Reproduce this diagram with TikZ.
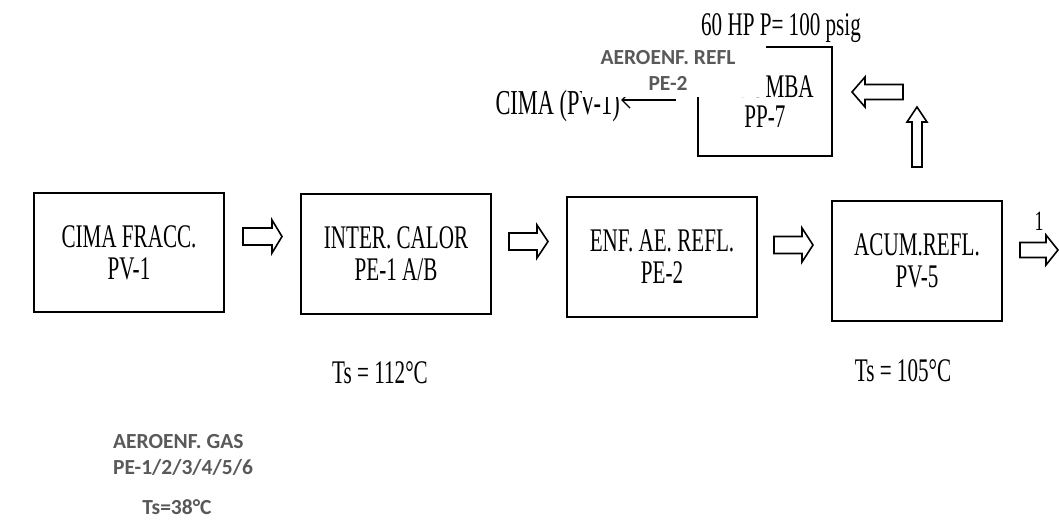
\documentclass[tikz,border=0pt]{standalone}
\usepackage{fontspec}
\usetikzlibrary{arrows.meta}
\newfontfamily\scanfont{Liberation Serif}[FakeStretch=0.64]
\newfontfamily\ovlfont{Carlito}
\definecolor{ovlgray}{RGB}{89,89,89}
% hollow block arrow: cx cy length headwidth shaftwidth headlength rotation
\newcommand\hollowarrow[7]{%
  \draw[harrowline,shift={(#1,#2)},rotate=#7]
    ({-#3/2},{-#5/2}) -- ({#3/2-#6},{-#5/2}) -- ({#3/2-#6},{-#4/2}) --
    ({#3/2},0) -- ({#3/2-#6},{#4/2}) -- ({#3/2-#6},{#5/2}) --
    ({-#3/2},{#5/2}) -- cycle;}
\begin{document}
\begin{tikzpicture}[x=1pt,y=-1pt,
  box/.style={draw,line width=1.8pt,inner sep=0pt,align=center,
    font=\scanfont\fontsize{33}{32}\selectfont},
  harrowline/.style={draw,line width=1.6pt,fill=white,line join=miter},
  lbl/.style={font=\scanfont\fontsize{33}{32}\selectfont,inner sep=0pt},
  ovl/.style={font=\ovlfont\bfseries\fontsize{21.5}{26}\selectfont,text=ovlgray,inner sep=0pt}]
\useasboundingbox[fill=white] (0,0) rectangle (1059,523);

% main boxes
\node[box,minimum width=190,minimum height=119] (b1) at (129,252.5) {CIMA FRACC.\\PV-1};
\node[box,minimum width=190,minimum height=120] (b2) at (396,254) {INTER. CALOR\\PE-1 A/B};
\node[box,minimum width=190,minimum height=120] (b3) at (662,257) {ENF. AE. REFL.\\PE-2};
\node[box,minimum width=170,minimum height=120] (b4) at (917,261) {ACUM.REFL.\\PV-5};
\node[box,minimum width=134,minimum height=109,font=\scanfont\fontsize{33}{30}\selectfont] (pp7) at (765,101.5) {\hspace*{20pt}BOMBA\\PP-7};

% hollow arrows
\hollowarrow{262.5}{236.5}{39}{33}{17}{10}{0}
\hollowarrow{528.5}{241.5}{39}{33}{17}{11}{0}
\hollowarrow{793.5}{245}{39}{34}{17}{11}{0}
\hollowarrow{1039}{250}{38}{30}{15}{12}{0}
\hollowarrow{877.5}{92}{51}{30}{15}{13}{180}
\hollowarrow{917}{137}{60}{20}{10}{15}{90}

% labels
\node[lbl] (ts1) at (380,373) {Ts = 112°C};
\node[lbl] (ts2) at (903,371) {Ts = 105°C};
\node[lbl,anchor=base] (hp) at (781,35) {60 HP P= 100 psig};
\node[lbl,font=\scanfont\fontsize{35}{32}\selectfont,anchor=base east] (cima) at (620,114) {CIMA (PV-1)};
\node[lbl,font=\scanfont\fontsize{28}{30}\selectfont] (one) at (1039,221) {1};

% pump discharge line to top of column
\coordinate (pumpout) at (676,100);
\draw[line width=1.4pt,-{Straight Barb[length=8pt,width=16pt]},shorten >=1pt] (pumpout) -- (cima.east |- pumpout);

% white patch with overlay text
\fill[white] (582,40) rectangle (766,97);
\node[ovl,align=center] (aer) at (668,70) {AEROENF. REFL\\PE-2};
\node[ovl,align=left,anchor=west] (gas) at (113,455) {AEROENF. GAS\\PE-1/2/3/4/5/6};
\node[ovl] (ts3) at (177,507) {Ts=38°C};
\end{tikzpicture}
\end{document}
